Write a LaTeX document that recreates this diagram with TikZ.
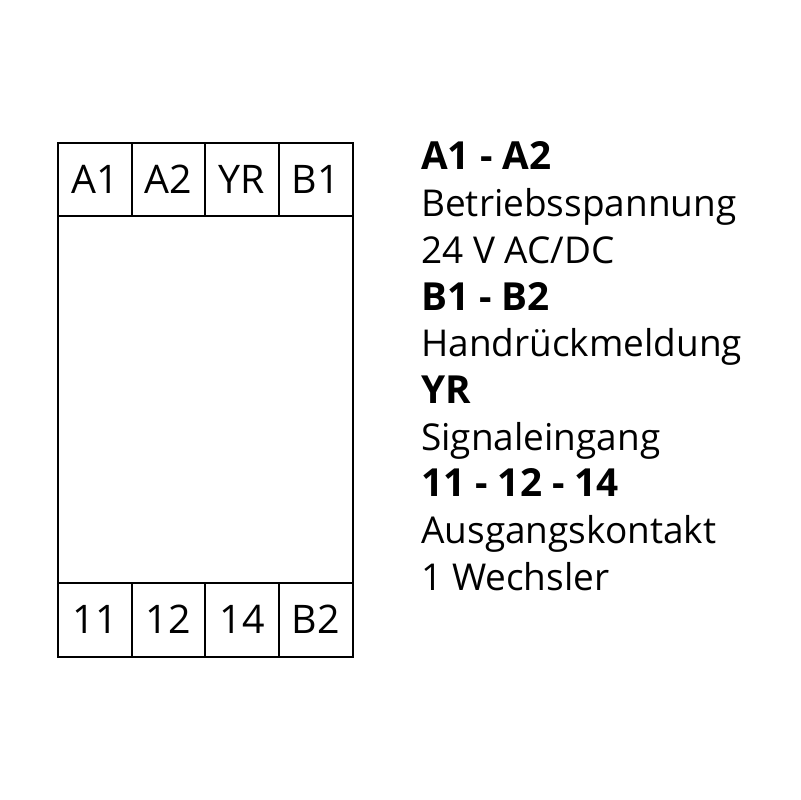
\documentclass[tikz,border=0pt]{standalone}
\usepackage{fontspec}
\setmainfont{Open Sans}
\usepackage{tikz}

\begin{document}
\begin{tikzpicture}[x=0.025cm,y=-0.025cm,line width=1.8pt,
  every node/.style={inner sep=0pt},
  klemme/.style={anchor=base,font=\fontsize{28}{30}\selectfont},
  kopf/.style={anchor=base west,font=\fontsize{27.5}{29}\selectfont\bfseries},
  zeile/.style={anchor=base west,font=\fontsize{26.3}{28}\selectfont}]
	\useasboundingbox (0,0) rectangle (800,800);
	% Gehaeuse
	\draw (58,143) rectangle (353,657);
	\draw (58,216) -- (353,216);
	\draw (58,583) -- (353,583);
	\draw (132,143) -- (132,216);
	\draw (205,143) -- (205,216);
	\draw (279,143) -- (279,216);
	\draw (132,583) -- (132,657);
	\draw (205,583) -- (205,657);
	\draw (279,583) -- (279,657);
	% Klemmen oben
	\node[klemme] (a1) at (95,194) {A1};
	\node[klemme] (a2) at (168.5,194) {A2};
	\node[klemme] (yr) at (242,194) {YR};
	\node[klemme] (b1) at (316,194) {B1};
	% Klemmen unten
	\node[klemme] (k11) at (95,633) {11};
	\node[klemme] (k12) at (168.5,633) {12};
	\node[klemme] (k14) at (242,633) {14};
	\node[klemme] (b2) at (316,633) {B2};
	% Legende
	\node[kopf] (la) at (420,170) {A1 - A2};
	\node[zeile] (lb) at (420,216.7) {Betriebsspannung};
	\node[zeile] (lc) at (420,263.4) {24 V AC/DC};
	\node[kopf] (ld) at (420,310.1) {B1 - B2};
	\node[zeile] (le) at (420,356.8) {Handrückmeldung};
	\node[kopf] (lf) at (420,403.5) {YR};
	\node[zeile] (lg) at (420,450.2) {Signaleingang};
	\node[kopf] (lh) at (420,496.9) {11 - 12 - 14};
	\node[zeile] (li) at (420,543.6) {Ausgangskontakt};
	\node[zeile] (lj) at (420,590.3) {1 Wechsler};
\end{tikzpicture}
\end{document}
